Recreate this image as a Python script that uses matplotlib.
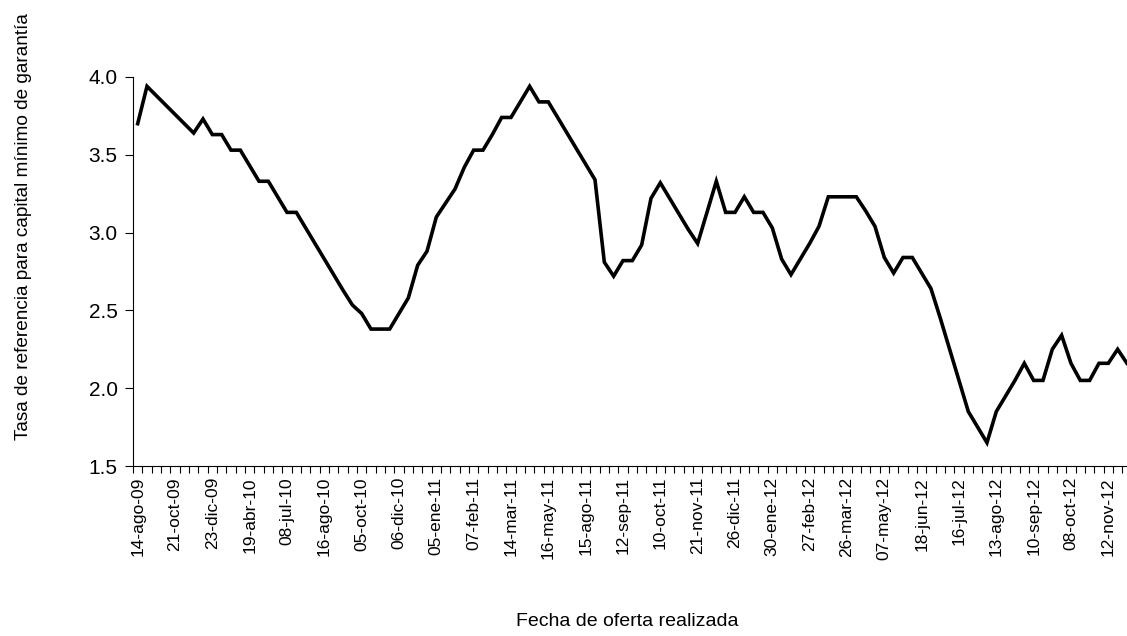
import numpy as np
import matplotlib
matplotlib.use('Agg')
import matplotlib.pyplot as plt
from matplotlib.ticker import FixedLocator, FormatStrFormatter

plt.rcParams['font.family'] = ['Liberation Sans', 'DejaVu Sans']

# Tasa de referencia por subasta (una por categoría del eje x)
tasa = [3.70, 3.94, 3.88, 3.82, 3.76, 3.70, 3.64, 3.73, 3.63, 3.63,
        3.53, 3.53, 3.43, 3.33, 3.33, 3.23, 3.13, 3.13, 3.03, 2.93,
        2.83, 2.73, 2.63, 2.535, 2.48, 2.38, 2.38, 2.38, 2.48, 2.58,
        2.79, 2.88, 3.10, 3.19, 3.28, 3.42, 3.53, 3.53, 3.63, 3.74,
        3.74, 3.84, 3.94, 3.84, 3.84, 3.74, 3.64, 3.54, 3.44, 3.34,
        2.81, 2.72, 2.82, 2.82, 2.92, 3.22, 3.32, 3.22, 3.12, 3.02,
        2.93, 3.13, 3.33, 3.13, 3.13, 3.23, 3.13, 3.13, 3.03, 2.83,
        2.73, 2.83, 2.93, 3.04, 3.23, 3.23, 3.23, 3.23, 3.14, 3.04,
        2.84, 2.74, 2.84, 2.84, 2.74, 2.64, 2.45, 2.25, 2.05, 1.85,
        1.75, 1.65, 1.85, 1.95, 2.05, 2.16, 2.05, 2.05, 2.25, 2.34,
        2.16, 2.05, 2.05, 2.16, 2.16, 2.25, 2.16]

# Etiquetas visibles (cada 4 categorías)
etiquetas = ['14-ago-09', '21-oct-09', '23-dic-09', '19-abr-10', '08-jul-10',
             '16-ago-10', '05-oct-10', '06-dic-10', '05-ene-11', '07-feb-11',
             '14-mar-11', '16-may-11', '15-ago-11', '12-sep-11', '10-oct-11',
             '21-nov-11', '26-dic-11', '30-ene-12', '27-feb-12', '26-mar-12',
             '07-may-12', '18-jun-12', '16-jul-12', '13-ago-12', '10-sep-12',
             '08-oct-12', '12-nov-12']
paso_etiqueta = 4

y_ticks = [1.5, 2.0, 2.5, 3.0, 3.5, 4.0]


def main():
    fig = plt.figure(figsize=(11.27, 6.36), dpi=100)
    ax = fig.add_axes([133 / 1127, 170 / 636, 994 / 1127, 389 / 636])

    x = np.arange(len(tasa))
    ax.plot(x, tasa, color='black', linewidth=2.6, solid_joinstyle='miter')

    ax.set_ylim(1.5, 4.0)
    ax.set_xlim(-0.5, -0.5 + 994 / 9.333)

    ax.set_yticks(y_ticks)
    ax.yaxis.set_major_formatter(FormatStrFormatter('%.1f'))
    ax.tick_params(axis='y', direction='out', length=6, width=0.8,
                   labelsize=15, pad=5)

    # etiquetas en el centro de la categoría, marcas en los bordes
    ax.set_xticks(x[::paso_etiqueta])
    ax.set_xticklabels(etiquetas, rotation=90)
    ax.xaxis.set_minor_locator(FixedLocator(np.arange(len(tasa) + 1) - 0.5))
    ax.tick_params(axis='x', which='major', length=0, labelsize=12.5, pad=8)
    ax.tick_params(axis='x', which='minor', direction='out', length=5, width=0.8)

    for side in ['top', 'right']:
        ax.spines[side].set_visible(False)
    for side in ['left', 'bottom']:
        ax.spines[side].set_linewidth(0.8)

    ax.set_ylabel('Tasa de referencia para capital mínimo de garantía',
                  fontsize=13.7)
    ax.set_xlabel('Fecha de oferta realizada', fontsize=14)
    ax.xaxis.set_label_coords((627 - 133) / 994, -(613 - 466) / 389)
    ax.yaxis.set_label_coords(-(133 - 32) / 994, (466 - 227) / 389)

    fig.savefig('out.png', dpi=100)


if __name__ == '__main__':
    main()
